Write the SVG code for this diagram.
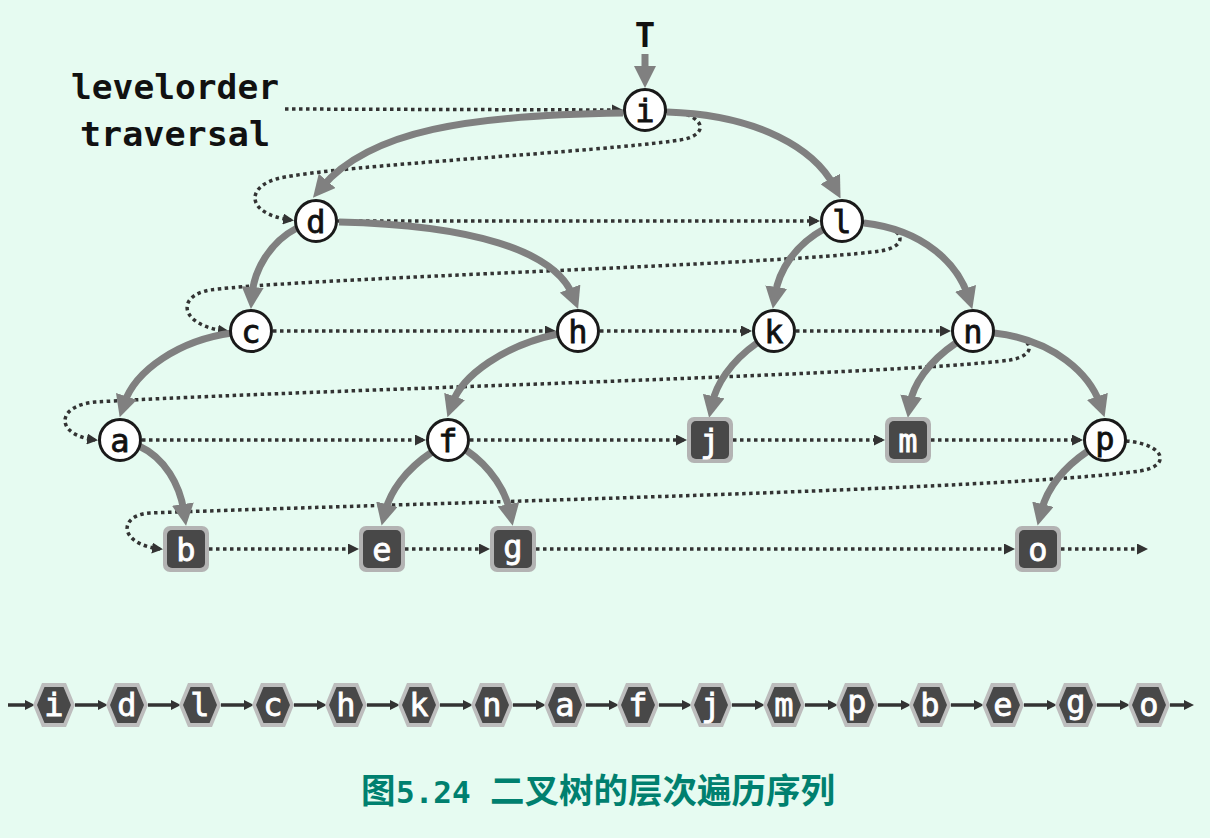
<svg xmlns="http://www.w3.org/2000/svg" xmlns:xlink="http://www.w3.org/1999/xlink" width="1210" height="838" viewBox="0 0 1210 838">
<style>
.edge{fill:none;stroke:#808080;stroke-width:7;marker-end:url(#gArrow)}
.dot{fill:none;stroke:#333;stroke-width:3.5;stroke-dasharray:3.5 3.5;marker-end:url(#dArrow)}
.seq{fill:none;stroke:#333;stroke-width:3.5;marker-end:url(#sArrow)}
.circ{fill:#fff;stroke:#1a1a1a;stroke-width:3}
.lt{font-family:"DejaVu Sans Mono","Liberation Mono",monospace;font-size:32px;text-anchor:middle;stroke-width:0.8}
.lb{fill:#111;stroke:#111}
.lw{fill:#fff;stroke:#fff}
.boxO{fill:#b3b3b3}
.boxI{fill:#484848}
.hexO{fill:#bdbdbd}
.hexI{fill:#484848}
.lab{font-family:"DejaVu Sans Mono","Liberation Mono",monospace;font-size:34px;font-weight:bold;fill:#111}
.cap{font-weight:bold;fill:#00806f;font-size:34.5px}
</style>
<defs>
<marker id="gArrow" markerUnits="userSpaceOnUse" viewBox="0 0 22 22" markerWidth="22" markerHeight="22" refX="8" refY="11" orient="auto"><path d="M0,0 L22,11 L0,22 z" fill="#808080"/></marker>
<marker id="dArrow" markerUnits="userSpaceOnUse" viewBox="0 0 11 11" markerWidth="11" markerHeight="11" refX="8" refY="5.5" orient="auto"><path d="M0,0 L11,5.5 L0,11 z" fill="#333"/></marker>
<marker id="sArrow" markerUnits="userSpaceOnUse" viewBox="0 0 10 10" markerWidth="10" markerHeight="10" refX="4" refY="5" orient="auto"><path d="M0,0 L10,5 L0,10 z" fill="#333"/></marker>
<polygon id="hexOuter" points="-21,0 -12,-22 12,-22 21,0 12,22 -12,22"/>
<polygon id="hexInner" points="-17,0 -9.5,-18 9.5,-18 17,0 9.5,18 -9.5,18"/>
</defs>
<rect width="1210" height="838" fill="#e6fbf1"/>

<g id="labels">
<text class="lab" x="645" y="47" text-anchor="middle">T</text>
<text class="lab" x="71" y="99" textLength="208" lengthAdjust="spacingAndGlyphs">levelorder</text>
<text class="lab" x="80" y="146" textLength="190" lengthAdjust="spacingAndGlyphs">traversal</text>
</g>

<g id="traversal">
<path class="dot" d="M285 109 L620 110"/>
<path class="dot" d="M666 111 C705 113 712 135 680 140 C600 152 340 165 280 178 C245 186 245 214 291 220"/>
<path class="dot" d="M338 221 L817 221"/>
<path class="dot" d="M863 222 C905 225 912 246 880 251 C780 265 300 278 210 290 C175 296 180 326 226 331"/>
<path class="dot" d="M273 331 L553 331"/>
<path class="dot" d="M600 331 L749 331"/>
<path class="dot" d="M796 331 L948 331"/>
<path class="dot" d="M994 332 C1035 335 1040 355 1010 360 C900 375 300 390 95 402 C55 406 55 435 95 440"/>
<path class="dot" d="M142 440 L423 440"/>
<path class="dot" d="M470 440 L684 440"/>
<path class="dot" d="M733 440 L882 440"/>
<path class="dot" d="M931 440 L1080 440"/>
<path class="dot" d="M1126 441 C1165 444 1172 466 1140 471 C1000 490 450 502 150 513 C118 515 118 544 160 549"/>
<path class="dot" d="M209 549 L356 549"/>
<path class="dot" d="M405 549 L487 549"/>
<path class="dot" d="M536 549 L1012 549"/>
<path class="dot" d="M1061 549 L1145 549"/>
</g>

<g id="edges">
<path class="edge" d="M645 54 L645 74"/>
<path class="edge" d="M623 113 C470 115 370 130 322 187"/>
<path class="edge" d="M667 112 C760 115 815 150 834 186"/>
<path class="edge" d="M297 228 C270 242 254 270 252 295"/>
<path class="edge" d="M339 222 C470 225 555 250 573 296"/>
<path class="edge" d="M824 229 C795 245 779 270 775 295"/>
<path class="edge" d="M864 223 C925 230 958 265 968 296"/>
<path class="edge" d="M232 333 C180 340 135 370 124 404"/>
<path class="edge" d="M558 334 C505 345 462 375 452 404"/>
<path class="edge" d="M757 343 C730 362 716 385 712 404"/>
<path class="edge" d="M956 343 C928 362 913 385 910 404"/>
<path class="edge" d="M994 333 C1055 340 1090 375 1100 404"/>
<path class="edge" d="M139 446 C165 458 180 485 184 512"/>
<path class="edge" d="M432 452 C405 470 390 492 385 512"/>
<path class="edge" d="M466 450 C492 468 506 492 510 512"/>
<path class="edge" d="M1088 451 C1060 470 1046 492 1041 512"/>
</g>

<g id="node-i"><circle class="circ" cx="645" cy="110" r="20.5"/><text class="lt lb" x="645" y="122">i</text></g>
<g id="node-d"><circle class="circ" cx="316" cy="221" r="20.5"/><text class="lt lb" x="316" y="233">d</text></g>
<g id="node-l"><circle class="circ" cx="842" cy="221" r="20.5"/><text class="lt lb" x="842" y="233">l</text></g>
<g id="node-c"><circle class="circ" cx="251" cy="331" r="20.5"/><text class="lt lb" x="251" y="343">c</text></g>
<g id="node-h"><circle class="circ" cx="578" cy="331" r="20.5"/><text class="lt lb" x="578" y="343">h</text></g>
<g id="node-k"><circle class="circ" cx="774" cy="331" r="20.5"/><text class="lt lb" x="774" y="343">k</text></g>
<g id="node-n"><circle class="circ" cx="973" cy="331" r="20.5"/><text class="lt lb" x="973" y="343">n</text></g>
<g id="node-a"><circle class="circ" cx="120" cy="440" r="20.5"/><text class="lt lb" x="120" y="452">a</text></g>
<g id="node-f"><circle class="circ" cx="448" cy="440" r="20.5"/><text class="lt lb" x="448" y="452">f</text></g>
<g id="node-p"><circle class="circ" cx="1105" cy="440" r="20.5"/><text class="lt lb" x="1105" y="450">p</text></g>

<g id="node-j"><rect class="boxO" x="687" y="417" width="46" height="46" rx="7"/><rect class="boxI" x="691" y="421" width="38" height="38" rx="5"/><text class="lt lw" x="710" y="452">j</text></g>
<g id="node-m"><rect class="boxO" x="885" y="417" width="46" height="46" rx="7"/><rect class="boxI" x="889" y="421" width="38" height="38" rx="5"/><text class="lt lw" x="908" y="452">m</text></g>
<g id="node-b"><rect class="boxO" x="163" y="526" width="46" height="46" rx="7"/><rect class="boxI" x="167" y="530" width="38" height="38" rx="5"/><text class="lt lw" x="186" y="561">b</text></g>
<g id="node-e"><rect class="boxO" x="359" y="526" width="46" height="46" rx="7"/><rect class="boxI" x="363" y="530" width="38" height="38" rx="5"/><text class="lt lw" x="382" y="561">e</text></g>
<g id="node-g"><rect class="boxO" x="490" y="526" width="46" height="46" rx="7"/><rect class="boxI" x="494" y="530" width="38" height="38" rx="5"/><text class="lt lw" x="513" y="558">g</text></g>
<g id="node-o"><rect class="boxO" x="1015" y="526" width="46" height="46" rx="7"/><rect class="boxI" x="1019" y="530" width="38" height="38" rx="5"/><text class="lt lw" x="1038" y="561">o</text></g>

<g id="sequence-arrows">
<path class="seq" d="M8 705 L29 705"/>
<path class="seq" d="M75 705 L102 705"/>
<path class="seq" d="M148 705 L175 705"/>
<path class="seq" d="M221 705 L248 705"/>
<path class="seq" d="M294 705 L321 705"/>
<path class="seq" d="M367 705 L394 705"/>
<path class="seq" d="M440 705 L467 705"/>
<path class="seq" d="M513 705 L540 705"/>
<path class="seq" d="M586 705 L613 705"/>
<path class="seq" d="M659 705 L686 705"/>
<path class="seq" d="M732 705 L759 705"/>
<path class="seq" d="M805 705 L832 705"/>
<path class="seq" d="M878 705 L905 705"/>
<path class="seq" d="M951 705 L978 705"/>
<path class="seq" d="M1024 705 L1051 705"/>
<path class="seq" d="M1097 705 L1124 705"/>
<path class="seq" d="M1170 705 L1188 705"/>
</g>

<g id="seq-i"><use href="#hexOuter" class="hexO" x="54" y="705"/><use href="#hexInner" class="hexI" x="54" y="705"/><text class="lt lw" x="54" y="716">i</text></g>
<g id="seq-d"><use href="#hexOuter" class="hexO" x="127" y="705"/><use href="#hexInner" class="hexI" x="127" y="705"/><text class="lt lw" x="127" y="716">d</text></g>
<g id="seq-l"><use href="#hexOuter" class="hexO" x="200" y="705"/><use href="#hexInner" class="hexI" x="200" y="705"/><text class="lt lw" x="200" y="716">l</text></g>
<g id="seq-c"><use href="#hexOuter" class="hexO" x="273" y="705"/><use href="#hexInner" class="hexI" x="273" y="705"/><text class="lt lw" x="273" y="716">c</text></g>
<g id="seq-h"><use href="#hexOuter" class="hexO" x="346" y="705"/><use href="#hexInner" class="hexI" x="346" y="705"/><text class="lt lw" x="346" y="716">h</text></g>
<g id="seq-k"><use href="#hexOuter" class="hexO" x="419" y="705"/><use href="#hexInner" class="hexI" x="419" y="705"/><text class="lt lw" x="419" y="716">k</text></g>
<g id="seq-n"><use href="#hexOuter" class="hexO" x="492" y="705"/><use href="#hexInner" class="hexI" x="492" y="705"/><text class="lt lw" x="492" y="716">n</text></g>
<g id="seq-a"><use href="#hexOuter" class="hexO" x="565" y="705"/><use href="#hexInner" class="hexI" x="565" y="705"/><text class="lt lw" x="565" y="716">a</text></g>
<g id="seq-f"><use href="#hexOuter" class="hexO" x="638" y="705"/><use href="#hexInner" class="hexI" x="638" y="705"/><text class="lt lw" x="638" y="716">f</text></g>
<g id="seq-j"><use href="#hexOuter" class="hexO" x="711" y="705"/><use href="#hexInner" class="hexI" x="711" y="705"/><text class="lt lw" x="711" y="716">j</text></g>
<g id="seq-m"><use href="#hexOuter" class="hexO" x="784" y="705"/><use href="#hexInner" class="hexI" x="784" y="705"/><text class="lt lw" x="784" y="716">m</text></g>
<g id="seq-p"><use href="#hexOuter" class="hexO" x="857" y="705"/><use href="#hexInner" class="hexI" x="857" y="705"/><text class="lt lw" x="857" y="713">p</text></g>
<g id="seq-b"><use href="#hexOuter" class="hexO" x="930" y="705"/><use href="#hexInner" class="hexI" x="930" y="705"/><text class="lt lw" x="930" y="716">b</text></g>
<g id="seq-e"><use href="#hexOuter" class="hexO" x="1003" y="705"/><use href="#hexInner" class="hexI" x="1003" y="705"/><text class="lt lw" x="1003" y="716">e</text></g>
<g id="seq-g"><use href="#hexOuter" class="hexO" x="1076" y="705"/><use href="#hexInner" class="hexI" x="1076" y="705"/><text class="lt lw" x="1076" y="713">g</text></g>
<g id="seq-o"><use href="#hexOuter" class="hexO" x="1149" y="705"/><use href="#hexInner" class="hexI" x="1149" y="705"/><text class="lt lw" x="1149" y="716">o</text></g>

<g id="caption">
<text class="cap" y="803"><tspan x="361" font-family="'Noto Sans CJK SC',sans-serif">图</tspan><tspan x="396" font-family="'DejaVu Sans Mono',monospace" font-size="31px">5.24</tspan><tspan x="490" font-family="'Noto Sans CJK SC',sans-serif">二叉树的层次遍历序列</tspan></text>
</g>
</svg>
